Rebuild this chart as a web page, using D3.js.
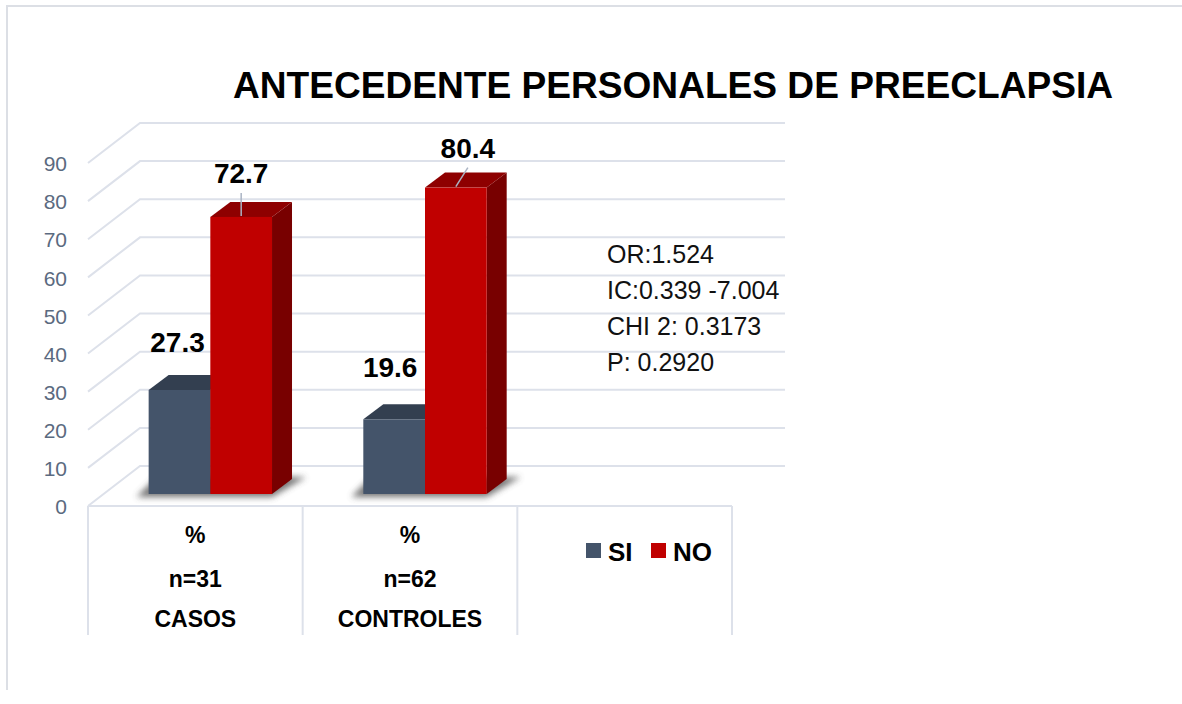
<!DOCTYPE html>
<html>
<head>
<meta charset="utf-8">
<script src="https://cdn.jsdelivr.net/npm/d3@7"></script>
<style>
  body { margin: 0; background: #fff; }
  svg { display: block; }
  text { font-family: "Liberation Sans", Arial, sans-serif; }
</style>
</head>
<body>
<svg id="chart" width="1182" height="704"></svg>
<script>
// data
const categories = ["CASOS", "CONTROLES", ""];
const sampleSizes = ["n=31", "n=62", ""];
const series = ["SI", "NO"];
const siValues = [27.3, 19.6];
const noValues = [72.7, 80.4];
const yTicks = [0, 10, 20, 30, 40, 50, 60, 70, 80, 90];
const statLines = ["OR:1.524", "IC:0.339 -7.004", "CHI 2: 0.3173", "P: 0.2920"];
const title = "ANTECEDENTE  PERSONALES  DE  PREECLAPSIA";

const colors = {
  SI: { front: "#44546a", top: "#333f50", side: "#2b3644" },
  NO: { front: "#c00000", top: "#8e0000", side: "#780000" }
};
const gridColor = "#dde1ea";

const svg = d3.select("#chart");

// 3d geometry: wall depth and the plane the bars stand in
const wall = { dx: 52, dy: 40 };
const plane = { dx: 15, dy: 12 };
const barDepth = { dx: 20, dy: 15 };

const x0 = d3.scaleBand().domain(categories.map((c, i) => i)).range([88, 732]);
const x1 = d3.scaleBand().domain(series).range([0, x0.bandwidth()]).paddingOuter(0.74);
const y = d3.scaleLinear().domain([0, 90]).range([506, 163]);

// outer frame
svg.append("path")
  .attr("d", "M7,690 L7,6 L1182,6")
  .attr("fill", "none")
  .attr("stroke", "#dcdfe5")
  .attr("stroke-width", 2);

// title
svg.append("text")
  .attr("x", 233).attr("y", 98)
  .attr("textLength", 880)
  .attr("lengthAdjust", "spacingAndGlyphs")
  .attr("font-size", 36)
  .attr("font-weight", "bold")
  .attr("fill", "#000")
  .text(title);

// grid: side wall diagonals + back wall lines
svg.append("g").selectAll("path")
  .data(yTicks)
  .join("path")
  .attr("d", d => `M88,${y(d)} L${88 + wall.dx},${y(d) - wall.dy} L785,${y(d) - wall.dy}`)
  .attr("fill", "none")
  .attr("stroke", gridColor)
  .attr("stroke-width", 2);

// y axis labels
const yAxis = svg.append("g")
  .attr("transform", "translate(88,1)")
  .call(d3.axisLeft(y).tickValues(yTicks).tickSize(0).tickPadding(21));
yAxis.select(".domain").remove();
yAxis.selectAll("text")
  .attr("font-family", "'Liberation Sans', Arial, sans-serif")
  .attr("font-size", 21)
  .attr("fill", "#5b6a80");

// category table under the floor
const table = svg.append("g");
table.append("line")
  .attr("x1", 88).attr("x2", 732)
  .attr("y1", y(0)).attr("y2", y(0))
  .attr("stroke", gridColor).attr("stroke-width", 2);
table.selectAll("line.sep")
  .data([0, 1, 2, 3])
  .join("line")
  .attr("class", "sep")
  .attr("x1", d => 88 + d * x0.step()).attr("x2", d => 88 + d * x0.step())
  .attr("y1", y(0)).attr("y2", 635)
  .attr("stroke", gridColor).attr("stroke-width", 2);

categories.forEach((c, i) => {
  if (!c) return;
  const cx = x0(i) + x0.bandwidth() / 2;
  [["%", 543], [sampleSizes[i], 587], [c, 627]].forEach(([t, ty]) => {
    table.append("text")
      .attr("x", cx).attr("y", ty)
      .attr("text-anchor", "middle")
      .attr("font-size", 23)
      .attr("font-weight", "bold")
      .attr("fill", "#000")
      .text(t);
  });
});

// shadow filter
const defs = svg.append("defs");
defs.append("filter").attr("id", "blur")
  .attr("x", "-20%").attr("y", "-50%").attr("width", "140%").attr("height", "200%")
  .append("feGaussianBlur").attr("stdDeviation", 3);

const barData = [];
categories.forEach((c, i) => {
  if (!c) return;
  barData.push({ cat: i, key: "SI", value: siValues[i] });
  barData.push({ cat: i, key: "NO", value: noValues[i] });
});

const base = y(0) - plane.dy;

// soft shadow under each group
svg.append("g").selectAll("path")
  .data([0, 1])
  .join("path")
  .attr("d", i => {
    const l = x0(i) + x1("SI") + plane.dx - 12;
    const r = x0(i) + x1("NO") + x1.bandwidth() + plane.dx;
    return `M${l},${base + 3} L${r},${base + 3} L${r + barDepth.dx + 14},${base - barDepth.dy - 2} L${l + barDepth.dx},${base - barDepth.dy - 2} Z`;
  })
  .attr("fill", "#4a4a4a")
  .attr("opacity", 0.75)
  .attr("filter", "url(#blur)");

// bars
const bars = svg.append("g").selectAll("g")
  .data(barData)
  .join("g");

bars.each(function (d) {
  const g = d3.select(this);
  const xl = x0(d.cat) + x1(d.key) + plane.dx;
  const xr = xl + x1.bandwidth();
  const yt = y(d.value) - plane.dy;
  const c = colors[d.key];
  g.append("path")
    .attr("d", `M${xr},${yt} L${xr + barDepth.dx},${yt - barDepth.dy} L${xr + barDepth.dx},${base - barDepth.dy} L${xr},${base} Z`)
    .attr("fill", c.side);
  g.append("path")
    .attr("d", `M${xl},${yt} L${xl + barDepth.dx},${yt - barDepth.dy} L${xr + barDepth.dx},${yt - barDepth.dy} L${xr},${yt} Z`)
    .attr("fill", c.top);
  g.append("rect")
    .attr("x", xl).attr("y", yt)
    .attr("width", x1.bandwidth())
    .attr("height", base - yt)
    .attr("fill", c.front);
});

// value labels (hand-nudged like in the original)
const labelNudge = { "0SI": [-2, -38], "0NO": [0, -34], "1SI": [-4, -42], "1NO": [12, -30] };
barData.forEach(d => {
  const cx = x0(d.cat) + x1(d.key) + plane.dx + x1.bandwidth() / 2;
  const yt = y(d.value) - plane.dy;
  const [nx, ny] = labelNudge[d.cat + d.key];
  svg.append("text")
    .attr("x", cx + nx).attr("y", yt + ny)
    .attr("text-anchor", "middle")
    .attr("font-size", 28)
    .attr("font-weight", "bold")
    .attr("fill", "#000")
    .text(d.value.toFixed(1));
  if (d.key === "NO") {
    svg.append("line")
      .attr("x1", cx + nx).attr("y1", yt + ny + 10)
      .attr("x2", cx + (d.cat === 1 ? 0 : nx)).attr("y2", yt - 1)
      .attr("stroke", "#aab4c4")
      .attr("stroke-width", 1.5);
  }
});

// statistics
svg.append("g").selectAll("text")
  .data(statLines)
  .join("text")
  .attr("x", 607)
  .attr("y", (d, i) => 263 + i * 36)
  .attr("font-family", "Lato, 'Open Sans', sans-serif")
  .attr("font-size", 25)
  .attr("fill", "#111")
  .text(d => d);

// legend
const legend = svg.append("g");
const legendX = [586, 651];
series.forEach((s, i) => {
  legend.append("rect")
    .attr("x", legendX[i]).attr("y", 543)
    .attr("width", 15).attr("height", 15)
    .attr("fill", colors[s].front);
  legend.append("text")
    .attr("x", legendX[i] + 22).attr("y", 561)
    .attr("font-size", 26)
    .attr("font-weight", "bold")
    .attr("fill", "#000")
    .text(s);
});
</script>
</body>
</html>
